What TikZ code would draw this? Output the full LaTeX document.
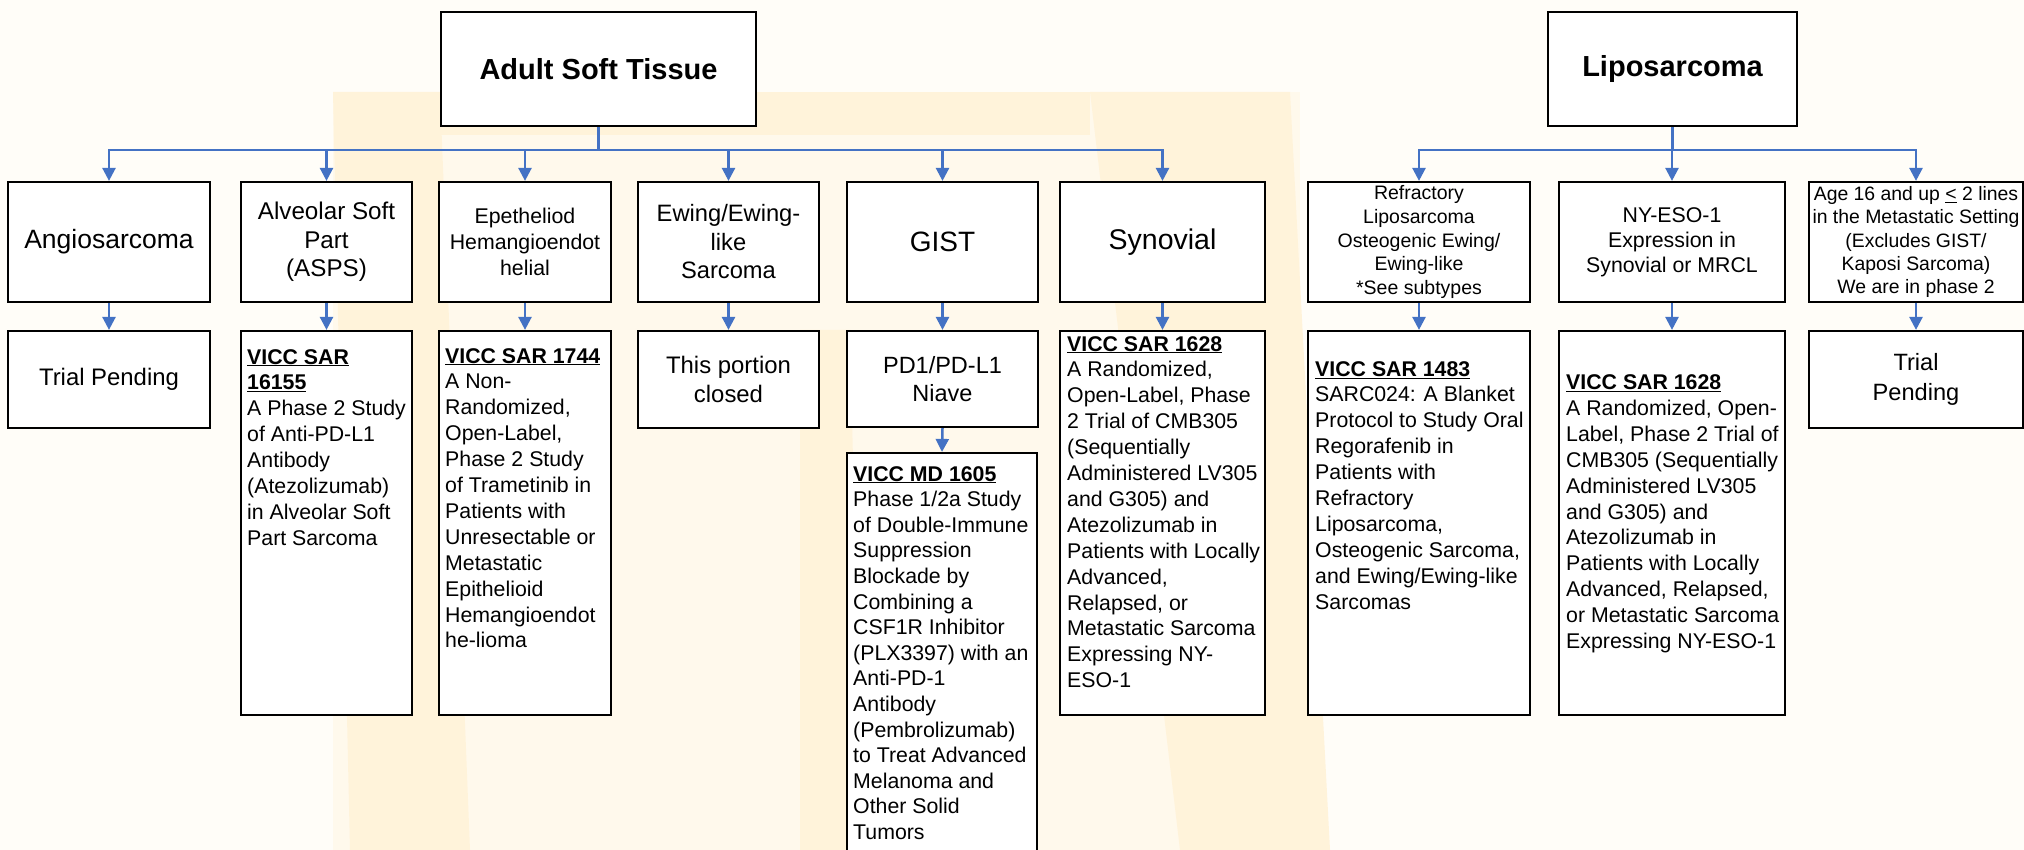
\documentclass[tikz,border=0pt]{standalone}
\usepackage{fontspec}
\setmainfont{Liberation Sans}
\usetikzlibrary{arrows.meta}
\definecolor{connblue}{RGB}{68,114,196}
\definecolor{bgcream}{RGB}{255,253,248}
\definecolor{wmA}{RGB}{255,243,218}
\definecolor{wmB}{RGB}{255,249,236}
\newcommand\fs[2]{\fontsize{#1}{#2}\selectfont}
\newcommand\hd[1]{\textbf{\underline{#1}}}
\begin{document}
\begin{tikzpicture}[x=1pt,y=-1pt,
  box/.style={draw=black,line width=2.2pt,fill=white,rectangle,inner sep=0pt,align=center},
  conn/.style={draw=connblue,line width=2.5pt},
  arr/.style={conn,-{Triangle[length=13pt,width=13pt]}},
  txt/.style={inner sep=0pt,anchor=north west,align=left,font=\fs{21.3}{25.9}},
]
\useasboundingbox (0,0) rectangle (2024,850);
\clip (0,0) rectangle (2024,850);
% background watermark
\fill[bgcream] (0,0) rectangle (2024,850);
\fill[wmB] (333,92) rectangle (1300,850);
\fill[wmA] (333,92) -- (440,92) -- (470,850) -- (350,850) -- cycle;
\fill[wmA] (1090,92) -- (1290,92) -- (1330,850) -- (1180,850) -- cycle;
\fill[wmA] (440,92) rectangle (1090,135);
\fill[wmA] (800,330) -- (850,330) -- (862,850) -- (800,850) -- cycle;

% top level
\node[box,minimum width=315pt,minimum height=114pt,font=\bfseries\fs{29}{34}] (ast) at (598.5,69) {Adult Soft Tissue};
\node[box,minimum width=249pt,minimum height=114pt,font=\bfseries\fs{29}{34}] (lipo) at (1672.5,69) {Liposarcoma};

% row 1
\node[box,minimum width=202pt,minimum height=120pt,font=\fs{26.5}{30}] (angio) at (109,242) {Angiosarcoma};
\node[box,minimum width=171pt,minimum height=120pt,font=\fs{24.2}{28.5}] (alv) at (326.5,242) {Alveolar Soft\\Part\\(ASPS)};
\node[box,minimum width=172pt,minimum height=120pt,font=\fs{21.3}{26}] (epe) at (525,242) {Epetheliod\\Hemangioendot\\helial};
\node[box,minimum width=181pt,minimum height=120pt,font=\fs{23.7}{28.5}] (ewi) at (728.5,242) {Ewing/Ewing-\\like\\Sarcoma};
\node[box,minimum width=191pt,minimum height=120pt,font=\fs{28}{32}] (gist) at (942.5,242) {GIST};
\node[box,minimum width=205pt,minimum height=120pt,font=\fs{28.5}{32}] (syn) at (1162.5,242) {Synovial};
\node[box,minimum width=222pt,minimum height=120pt,font=\fs{19.5}{23.7}] (ref) at (1419,242) {Refractory\\Liposarcoma\\Osteogenic Ewing/\\Ewing-like\\*See subtypes};
\node[box,minimum width=226pt,minimum height=120pt,font=\fs{21.3}{25}] (nye) at (1672,242) {NY-ESO-1\\Expression in\\Synovial or MRCL};
\node[box,minimum width=214pt,minimum height=120pt,font=\fs{19.4}{23.2}] (age) at (1916,242) {Age 16 and up \underline{<} 2 lines\\in the Metastatic Setting\\(Excludes GIST/\\Kaposi Sarcoma)\\We are in phase 2};

% row 2
\node[box,minimum width=202pt,minimum height=97pt,font=\fs{23.9}{28.7}] (angio2) at (109,379.5) {Trial Pending};
\node[box,minimum width=171pt,minimum height=384pt] (alv2) at (326.5,523) {};
\node[box,minimum width=172pt,minimum height=384pt] (epe2) at (525,523) {};
\node[box,minimum width=181pt,minimum height=97pt,font=\fs{23.9}{28.7}] (ewi2) at (728.5,379.5) {This portion\\closed};
\node[box,minimum width=191pt,minimum height=96pt,font=\fs{23.5}{28}] (gist2) at (942.5,379) {PD1/PD-L1\\Niave};
\node[box,minimum width=205pt,minimum height=384pt] (syn2) at (1162.5,523) {};
\node[box,minimum width=222pt,minimum height=384pt] (ref2) at (1419,523) {};
\node[box,minimum width=226pt,minimum height=384pt] (nye2) at (1672,523) {};
\node[box,minimum width=214pt,minimum height=97pt,font=\fs{23.6}{30}] (age2) at (1916,379.5) {Trial\\Pending};

% row 3
\node[box,minimum width=190pt,minimum height=407pt] (md) at (942,656.5) {};

% texts of tall boxes
\node[txt] (alv2t) at (247,349) {\hd{VICC SAR}\\\hd{16155}\\A Phase 2 Study\\of Anti-PD-L1\\Antibody\\(Atezolizumab)\\in Alveolar Soft\\Part Sarcoma};
\node[txt] (epe2t) at (445,348) {\hd{VICC SAR 1744}\\A Non-\\Randomized,\\Open-Label,\\Phase 2 Study\\of Trametinib in\\Patients with\\Unresectable or\\Metastatic\\Epithelioid\\Hemangioendot\\he-lioma};
\node[txt] (syn2t) at (1067,336) {\hd{VICC SAR 1628}\\A Randomized,\\Open-Label, Phase\\2 Trial of CMB305\\(Sequentially\\Administered LV305\\and G305) and\\Atezolizumab in\\Patients with Locally\\Advanced,\\Relapsed, or\\Metastatic Sarcoma\\Expressing NY-\\ESO-1};
\node[txt] (ref2t) at (1315,361) {\hd{VICC SAR 1483}\\SARC024: A Blanket\\Protocol to Study Oral\\Regorafenib in\\Patients with\\Refractory\\Liposarcoma,\\Osteogenic Sarcoma,\\and Ewing/Ewing-like\\Sarcomas};
\node[txt] (nye2t) at (1566,374.5) {\hd{VICC SAR 1628}\\A Randomized, Open-\\Label, Phase 2 Trial of\\CMB305 (Sequentially\\Administered LV305\\and G305) and\\Atezolizumab in\\Patients with Locally\\Advanced, Relapsed,\\or Metastatic Sarcoma\\Expressing NY-ESO-1};
\node[txt,font=\fs{21.3}{25.6}] (mdt) at (853,466) {\hd{VICC MD 1605}\\Phase 1/2a Study\\of Double-Immune\\Suppression\\Blockade by\\Combining a\\CSF1R Inhibitor\\(PLX3397) with an\\Anti-PD-1\\Antibody\\(Pembrolizumab)\\to Treat Advanced\\Melanoma and\\Other Solid\\Tumors};

% connectors
\coordinate (bus) at (0,150);
\draw[conn] (ast.south) -- (ast.south |- bus);
\draw[conn,line cap=rect] (angio.north |- bus) -- (syn.north |- bus);
\foreach \n in {angio,alv,epe,ewi,gist,syn} \draw[arr] (\n.north |- bus) -- (\n.north);
\draw[conn] (lipo.south) -- (lipo.south |- bus);
\draw[conn,line cap=rect] (ref.north |- bus) -- (age.north |- bus);
\foreach \n in {ref,nye,age} \draw[arr] (\n.north |- bus) -- (\n.north);
\foreach \n in {angio,alv,epe,ewi,gist,syn,ref,nye,age} \draw[arr] (\n.south) -- (\n2.north);
\draw[arr] (gist2.south) -- (md.north);
\end{tikzpicture}
\end{document}
